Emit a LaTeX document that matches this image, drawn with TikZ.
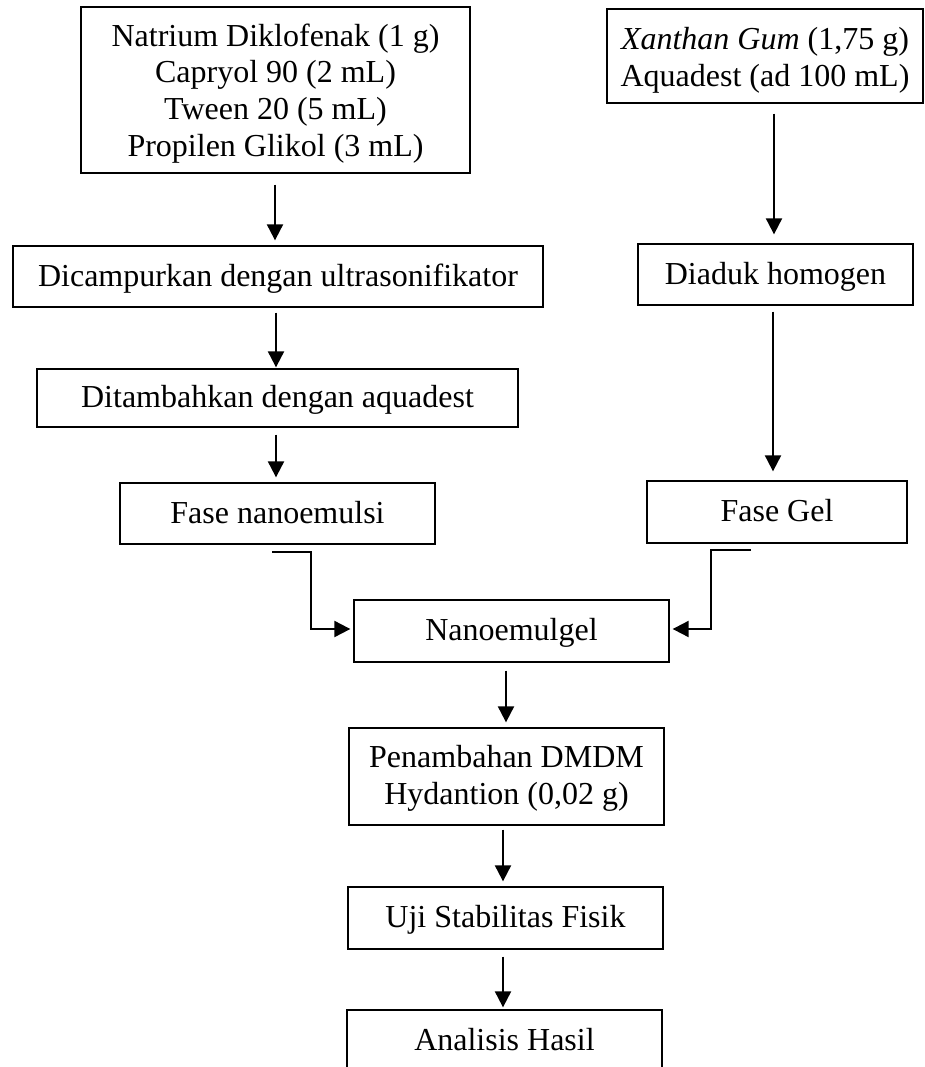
\documentclass[tikz,border=0pt]{standalone}
\usepackage{fontspec}
\setmainfont{Liberation Serif}
\usetikzlibrary{arrows.meta}
\begin{document}
\begin{tikzpicture}[x=1pt,y=-1pt,
  box/.style={draw, line width=1.3pt, inner sep=0pt},
  txt/.style={inner sep=0pt, align=center, font=\fontsize{32}{36.7}\selectfont},
  txtone/.style={inner sep=0pt, text height=26pt, text depth=7pt, font=\fontsize{32}{36.7}\selectfont},
  arr/.style={line width=2pt, -{Triangle[length=16pt,width=16pt]}}]
\clip (0,0) rectangle (925,1067);
% boxes
\node[box, minimum width=389pt, minimum height=166pt] (A) at (275.5,90) {};
\node[box, minimum width=316pt, minimum height=94pt] (B) at (765,56) {};
\node[box, minimum width=530pt, minimum height=61pt] (C) at (278,276.5) {};
\node[box, minimum width=275pt, minimum height=61pt] (D) at (775.5,274.5) {};
\node[box, minimum width=481pt, minimum height=58pt] (E) at (277.5,398) {};
\node[box, minimum width=315pt, minimum height=61pt] (F) at (277.5,513.5) {};
\node[box, minimum width=260pt, minimum height=62pt] (G) at (777,512) {};
\node[box, minimum width=315pt, minimum height=62pt] (H) at (511.5,631) {};
\node[box, minimum width=315pt, minimum height=97pt] (I) at (506.5,776.5) {};
\node[box, minimum width=315pt, minimum height=62pt] (J) at (505.5,918) {};
\node[box, minimum width=315pt, minimum height=62pt] (K) at (504.5,1041) {};
% texts
\node[txt] (At) at ([yshift=-3.3pt]A.center) {Natrium Diklofenak (1 g)\\Capryol 90 (2 mL)\\Tween 20 (5 mL)\\Propilen Glikol (3 mL)};
\node[txt] (Bt) at ([yshift=-4pt]B.center) {\textit{Xanthan Gum} (1,75 g)\\Aquadest (ad 100 mL)};
\node[txtone] (Ct) at (C.center) {Dicampurkan dengan ultrasonifikator};
\node[txtone] (Dt) at (D.center) {Diaduk homogen};
\node[txtone] (Et) at (E.center) {Ditambahkan dengan aquadest};
\node[txtone] (Ft) at (F.center) {Fase nanoemulsi};
\node[txtone] (Gt) at (G.center) {Fase Gel};
\node[txtone] (Ht) at (H.center) {Nanoemulgel};
\node[txt] (It) at ([yshift=-2pt]I.center) {Penambahan DMDM\\Hydantion (0,02 g)};
\node[txtone] (Jt) at (J.center) {Uji Stabilitas Fisik};
\node[txtone] (Kt) at (K.center) {Analisis Hasil};
% connectors
\draw[arr] ([xshift=-0.5pt,yshift=-11pt]A.south) -- ([xshift=-0.5pt,yshift=5pt]A.south |- C.north);
\draw[arr] ([xshift=9pt,yshift=-10pt]B.south) -- ([xshift=9pt,yshift=9pt]B.south |- D.north);
\draw[arr] ([xshift=-2pt,yshift=-5pt]C.south) -- ([xshift=-2pt,yshift=1pt]C.south |- E.north);
\draw[arr] ([xshift=-1.5pt,yshift=-7pt]E.south) -- ([xshift=-1.5pt,yshift=5pt]E.south |- F.north);
\draw[arr] ([xshift=-2.5pt,yshift=-6pt]D.south) -- ([xshift=-2.5pt,yshift=9pt]D.south |- G.north);
\draw[arr] ([xshift=-5.5pt,yshift=-7pt]F.south) -- ++(39,0) |- ([xshift=-3pt,yshift=2pt]H.west);
\draw[arr] ([xshift=-26pt,yshift=-6pt]G.south) -- ++(-40,0) |- ([xshift=3pt,yshift=2pt]H.east);
\draw[arr] ([xshift=-5.5pt,yshift=-8pt]H.south) -- ([xshift=-5.5pt,yshift=5pt]H.south |- I.north);
\draw[arr] ([xshift=-3.5pt,yshift=-4pt]I.south) -- ([xshift=-3.5pt,yshift=5pt]I.south |- J.north);
\draw[arr] ([xshift=-2.5pt,yshift=-7pt]J.south) -- ([xshift=-2.5pt,yshift=2pt]J.south |- K.north);
\end{tikzpicture}
\end{document}
